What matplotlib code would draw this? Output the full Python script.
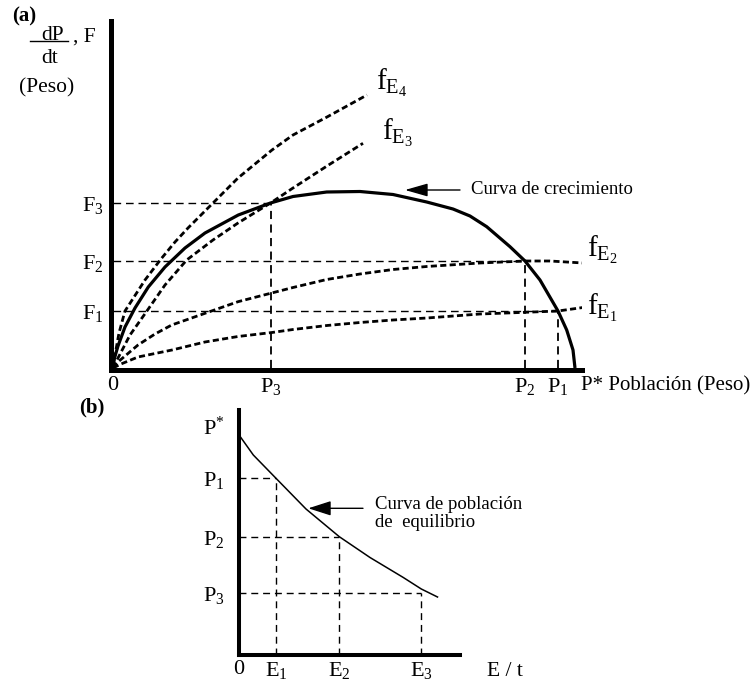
import matplotlib
matplotlib.use('Agg')
import matplotlib.pyplot as plt
from matplotlib.lines import Line2D

plt.rcParams['font.family'] = ['Liberation Serif', 'DejaVu Serif']
plt.rcParams['mathtext.fontset'] = 'custom'
plt.rcParams['mathtext.rm'] = 'Liberation Serif'
plt.rcParams['mathtext.it'] = 'Liberation Serif:italic'
plt.rcParams['mathtext.bf'] = 'Liberation Serif:bold'

# ---------------- Panel (a) data (arbitrary units) ----------------
growth_P = [0, 1.5, 5, 12, 22, 35.3, 52, 72, 92, 125.3, 157.5, 180, 213.7, 247, 280,
            313.7, 340, 357, 373.7, 397, 412, 427, 445, 453.7, 460, 462]
growth_F = [0, 10, 22, 41, 60, 81, 101, 120, 135, 153, 165, 171.5, 176, 176.5, 173.5,
            166, 159, 152, 141.3, 121.3, 107, 88, 57, 38, 18, 0]

fE1_P = [0, 8, 25, 59, 92, 125, 159, 180, 214, 247, 280, 314, 367, 407, 445, 470]
fE1_F = [0, 4, 11, 18, 26, 31.5, 35.5, 38.5, 42.5, 45.5, 48, 50, 54, 55.5, 57, 60.5]

fE2_P = [0, 5.3, 25, 42, 58.7, 92, 125, 158.7, 180, 213.7, 247, 280, 313.7, 367, 412, 437, 470]
fE2_F = [0, 6.3, 23, 34, 43, 54.7, 66.3, 75, 80.5, 88.5, 94, 98.5, 101.5, 105, 107, 107, 105]

fE3_P = [0, 5, 17, 33.7, 52, 73.7, 100, 125, 157.5, 180, 214, 250]
fE3_F = [0, 10, 33, 56.7, 83, 108, 128, 145, 165, 180, 202, 224.7]

fE4_P = [0, 2, 6, 12, 32, 48, 62, 75, 100, 125, 159, 180, 214, 254]
fE4_F = [0, 13, 35, 57, 88, 109, 126, 140, 165, 190, 218, 233, 251, 273]

F_levels = [57, 107, 165]          # F1, F2, F3
P_levels = [445, 412, 157.5]       # P1, P2, P3
P_star = 462
F_labels = [r'$\mathrm{F}_1$', r'$\mathrm{F}_2$', r'$\mathrm{F}_3$']
P_labels = [r'$\mathrm{P}_1$', r'$\mathrm{P}_2$', r'$\mathrm{P}_3$']

# ---------------- Panel (b) data ----------------
eq_E = [0, 14.6, 37.3, 67.3, 100.6, 131.3, 164.6, 182.6, 198.8]
eq_P = [220, 199.5, 176.2, 145.5, 117.8, 97, 77, 65.5, 57.5]
E_levels = [37.3, 100.6, 182.6]    # E1, E2, E3
Pb_levels = [176.2, 117.8, 61.5]   # P1, P2, P3
Pb_star = 229
E_labels = [r'$\mathrm{E}_1$', r'$\mathrm{E}_2$', r'$\mathrm{E}_3$']

W, H = 756, 688
fig = plt.figure(figsize=(W / 100, H / 100), dpi=100)

def fx(x):
    return x / W

def fy(y):
    return 1 - y / H

# ================= Panel (a) =================
axA = fig.add_axes([fx(110.5), fy(370), (582 - 110.5) / W, (370 - 21) / H])
axA.set_xlim(-2.5, 469)
axA.set_ylim(-2, 347)
for s in ['top', 'right']:
    axA.spines[s].set_visible(False)
axA.spines['left'].set_linewidth(3.6)
axA.spines['bottom'].set_linewidth(3.6)
axA.patch.set_alpha(0)

ref_kw = dict(color='black', lw=1.0, linestyle=(0, (5.5, 3.5)))
for Fv, Pv in zip(F_levels, P_levels):
    axA.plot([0, Pv], [Fv, Fv], **ref_kw)
    axA.plot([Pv, Pv], [0, Fv], color='black', lw=1.3, linestyle=(0, (4.5, 3)))

dash_kw = dict(color='black', lw=2.0, linestyle=(0, (2.2, 1.2)), solid_capstyle='butt')
axA.plot(fE1_P, fE1_F, **dash_kw)
axA.plot(fE2_P, fE2_F, **dash_kw)
axA.plot(fE3_P, fE3_F, **dash_kw)
axA.plot(fE4_P, fE4_F, **dash_kw)
axA.plot(growth_P, growth_F, color='black', lw=2.3, solid_capstyle='butt',
         solid_joinstyle='round')

axA.set_xticks([0] + P_levels[::-1], ['0'] + P_labels[::-1])
axA.set_yticks(F_levels, F_labels)
axA.tick_params(axis='both', length=0, labelsize=16)
axA.tick_params(axis='x', pad=4)
axA.tick_params(axis='y', pad=5)

axA.text(468, -18, 'P* Población (Peso)', fontsize=15, ha='left', va='center')

fkw = dict(fontsize=21, ha='left', va='baseline')
axA.text(263, 278, r'$\mathrm{f}_{\mathrm{E}_4}$', **fkw)
axA.text(269, 228, r'$\mathrm{f}_{\mathrm{E}_3}$', **fkw)
axA.text(474, 111, r'$\mathrm{f}_{\mathrm{E}_2}$', **fkw)
axA.text(474, 53, r'$\mathrm{f}_{\mathrm{E}_1}$', **fkw)

axA.annotate('', xy=(292, 178), xytext=(347, 178),
             arrowprops=dict(arrowstyle='-|>,head_length=1.4,head_width=0.4',
                             color='black', lw=1.0, shrinkA=0, shrinkB=0,
                             mutation_scale=10))
axA.text(358, 178, 'Curva de crecimiento', fontsize=13.5, ha='left', va='center')

# y-axis label of panel (a)
fig.text(fx(12), fy(21), '(a)', fontsize=15, fontweight='bold', ha='left', va='baseline')
fig.text(fx(53), fy(40), 'dP', fontsize=15.5, ha='center', va='baseline')
fig.add_artist(Line2D([fx(30), fx(68)], [fy(41), fy(41)], transform=fig.transFigure,
                      color='black', lw=1.0))
fig.text(fx(50), fy(63), 'dt', fontsize=15.5, ha='center', va='baseline')
fig.text(fx(73), fy(42), ', F', fontsize=15.5, ha='left', va='baseline')
fig.text(fx(47), fy(88), '(Peso)', fontsize=15.5, ha='center', va='center')

# ================= Panel (b) =================
axB = fig.add_axes([fx(238.7), fy(654.5), (460 - 238.7) / W, (654.5 - 410) / H])
axB.set_xlim(0, 221.3)
axB.set_ylim(0, 244.5)
for s in ['top', 'right']:
    axB.spines[s].set_visible(False)
axB.spines['left'].set_linewidth(2.9)
axB.spines['bottom'].set_linewidth(2.9)
axB.patch.set_alpha(0)

refb_kw = dict(color='black', lw=1.0, linestyle=(0, (5, 3.5)))
for Ev, Pv in zip(E_levels, Pb_levels):
    axB.plot([0, Ev], [Pv, Pv], **refb_kw)
    axB.plot([Ev, Ev], [0, Pv], **refb_kw)

axB.plot(eq_E, eq_P, color='black', lw=1.1, solid_joinstyle='round')

axB.set_xticks([0] + E_levels, ['0'] + E_labels)
axB.set_yticks([Pb_star] + Pb_levels, [r'$\mathrm{P}^{*}$'] + [r'$\mathrm{P}_1$', r'$\mathrm{P}_2$', r'$\mathrm{P}_3$'])
axB.tick_params(axis='both', length=0, labelsize=16)
axB.tick_params(axis='x', pad=4)
axB.tick_params(axis='y', pad=10)

axB.text(248.3, -17.5, 'E / t', fontsize=15.5, ha='left', va='center')

axB.annotate('', xy=(69.6, 146.2), xytext=(124.3, 146.2),
             arrowprops=dict(arrowstyle='-|>,head_length=1.4,head_width=0.45',
                             color='black', lw=1.0, shrinkA=0, shrinkB=0,
                             mutation_scale=10))
axB.text(136.3, 150, 'Curva de población', fontsize=13.5, ha='left', va='center')
axB.text(136.3, 132, 'de  equilibrio', fontsize=13.5, ha='left', va='center')

fig.text(fx(92), fy(407), '(b)', fontsize=15, fontweight='bold', ha='center', va='center')

fig.savefig('out.png', dpi=100, facecolor='white')
